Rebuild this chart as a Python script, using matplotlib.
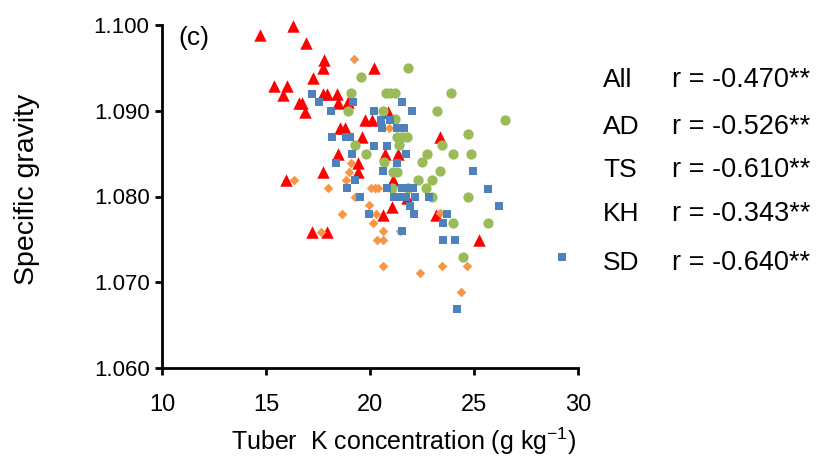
import numpy as np
import matplotlib.pyplot as plt

plt.rcParams['font.family'] = ['Liberation Sans', 'DejaVu Sans']
plt.rcParams['mathtext.fontset'] = 'custom'
plt.rcParams['mathtext.rm'] = 'Liberation Sans'

# AD (red triangles)
ad_k = [14.71, 16.30, 16.92, 15.38, 16.01, 15.82, 16.59, 16.88, 17.79, 17.74,
        17.26, 20.19, 17.74, 17.93, 18.41, 16.73, 18.46, 18.94, 20.87, 19.76,
        20.10, 18.56, 18.80, 19.62, 23.37, 18.46, 20.72, 21.35, 19.42, 17.74,
        19.42, 15.96, 21.11, 21.78, 21.06, 20.63, 23.17, 17.21, 17.93, 25.24]
ad_sg = [1.0988, 1.0999, 1.0979, 1.0929, 1.0929, 1.0918, 1.0909, 1.0898, 1.0959, 1.0950,
         1.0938, 1.0950, 1.0920, 1.0920, 1.0920, 1.0909, 1.0909, 1.0910, 1.0899, 1.0889,
         1.0889, 1.0880, 1.0880, 1.0869, 1.0869, 1.0850, 1.0850, 1.0850, 1.0839, 1.0829,
         1.0829, 1.0819, 1.0819, 1.0798, 1.0788, 1.0779, 1.0779, 1.0759, 1.0759, 1.0749]

# TS (orange diamonds)
ts_k = [19.23, 16.35, 19.09, 18.99, 18.85, 17.98, 19.28, 20.05, 20.24, 20.38,
        19.95, 18.65, 20.29, 20.14, 17.64, 20.63, 21.44, 20.34, 20.63, 20.63,
        22.40, 23.46, 24.66, 24.38, 20.91, 23.37]
ts_sg = [1.0960, 1.0819, 1.0839, 1.0829, 1.0819, 1.0810, 1.0800, 1.0810, 1.0810, 1.0810,
         1.0790, 1.0780, 1.0780, 1.0769, 1.0759, 1.0760, 1.0760, 1.0749, 1.0749, 1.0719,
         1.0711, 1.0719, 1.0719, 1.0689, 1.0880, 1.0781]

# KH (green circles)
kh_k = [19.57, 21.83, 19.09, 20.77, 20.96, 21.20, 23.89, 18.94, 20.63, 23.22,
        21.20, 26.49, 24.71, 21.30, 21.54, 21.78, 19.28, 19.81, 21.39, 23.46,
        22.74, 23.99, 24.86, 20.67, 22.50, 21.11, 21.30, 23.37, 22.31, 22.98,
        21.06, 21.83, 22.69, 22.98, 24.71, 23.99, 25.67, 24.47]
kh_sg = [1.0939, 1.0950, 1.0921, 1.0921, 1.0921, 1.0921, 1.0921, 1.0900, 1.0900, 1.0900,
         1.0890, 1.0889, 1.0873, 1.0869, 1.0869, 1.0869, 1.0860, 1.0850, 1.0860, 1.0860,
         1.0850, 1.0850, 1.0850, 1.0840, 1.0840, 1.0829, 1.0829, 1.0830, 1.0819, 1.0819,
         1.0810, 1.0810, 1.0810, 1.0800, 1.0800, 1.0769, 1.0769, 1.0730]

# SD (blue squares)
sd_k = [17.21, 17.55, 18.13, 19.18, 20.19, 21.54, 22.02, 20.53, 20.96, 20.58,
        21.30, 21.63, 18.17, 18.85, 19.04, 20.19, 20.82, 21.73, 19.13, 18.37,
        21.30, 20.63, 19.28, 18.89, 20.82, 21.54, 21.73, 22.07, 19.52, 21.15,
        21.44, 21.73, 22.16, 22.84, 21.92, 22.12, 19.95, 23.70, 23.51, 21.54,
        23.51, 24.09, 24.95, 25.67, 26.20, 29.23, 24.18]
sd_sg = [1.0920, 1.0910, 1.0900, 1.0910, 1.0900, 1.0910, 1.0900, 1.0889, 1.0889, 1.0880,
         1.0880, 1.0880, 1.0869, 1.0869, 1.0869, 1.0859, 1.0859, 1.0850, 1.0850, 1.0839,
         1.0839, 1.0830, 1.0819, 1.0810, 1.0810, 1.0810, 1.0810, 1.0810, 1.0800, 1.0800,
         1.0800, 1.0800, 1.0800, 1.0800, 1.0789, 1.0780, 1.0780, 1.0780, 1.0769, 1.0760,
         1.0749, 1.0749, 1.0830, 1.0809, 1.0789, 1.0730, 1.0669]

groups = ['All', 'AD', 'TS', 'KH', 'SD']
r_values = ['-0.470**', '-0.526**', '-0.610**', '-0.343**', '-0.640**']

W, H = 816, 468
fig = plt.figure(figsize=(W / 100, H / 100), dpi=100)
ax = fig.add_axes([162 / W, 1 - 368 / H, (578 - 162) / W, (368 - 25) / H])

ax.scatter(ad_k, ad_sg, marker='^', s=80, color='#FF0000', linewidths=0, clip_on=False, zorder=3)
ax.scatter(ts_k, ts_sg, marker='D', s=24, color='#F79646', linewidths=0, clip_on=False, zorder=3)
ax.scatter(kh_k, kh_sg, marker='o', s=55, color='#9BBB59', linewidths=0, clip_on=False, zorder=3)
ax.scatter(sd_k, sd_sg, marker='s', s=34, color='#4F81BD', linewidths=0, clip_on=False, zorder=4)

ax.set_xlim(10, 30)
ax.set_ylim(1.060, 1.100)
ax.set_xticks(np.arange(10, 31, 5))
yt = np.arange(1.060, 1.1001, 0.010)
ax.set_yticks(yt)
ax.set_yticklabels([f'{v:.3f}' for v in yt])

for side in ['top', 'right']:
    ax.spines[side].set_visible(False)
for side in ['left', 'bottom']:
    ax.spines[side].set_linewidth(2)
ax.tick_params(direction='out', length=5, width=2)
ax.tick_params(axis='y', labelsize=16, pad=4)
ax.tick_params(axis='x', labelsize=17, pad=14)

fig.text(404 / W, 1 - 441 / H, r'Tuber  K concentration (g kg$^{\mathregular{-1}}$)',
         fontsize=18, ha='center', va='center')
fig.text(27 / W, 1 - 189 / H, 'Specific gravity', fontsize=20.5, rotation=90,
         ha='center', va='center')

fig.text(178 / W, 1 - 38 / H, '(c)', fontsize=19, va='center', ha='left')

row_y = [80, 127, 170, 214, 263]
for g, r, py in zip(groups, r_values, row_y):
    fig.text(603 / W, 1 - py / H, g, fontsize=19, va='center', ha='left')
    fig.text(672 / W, 1 - py / H, f'r = {r}', fontsize=19.5, va='center', ha='left')

fig.savefig('out.png', dpi=100)
